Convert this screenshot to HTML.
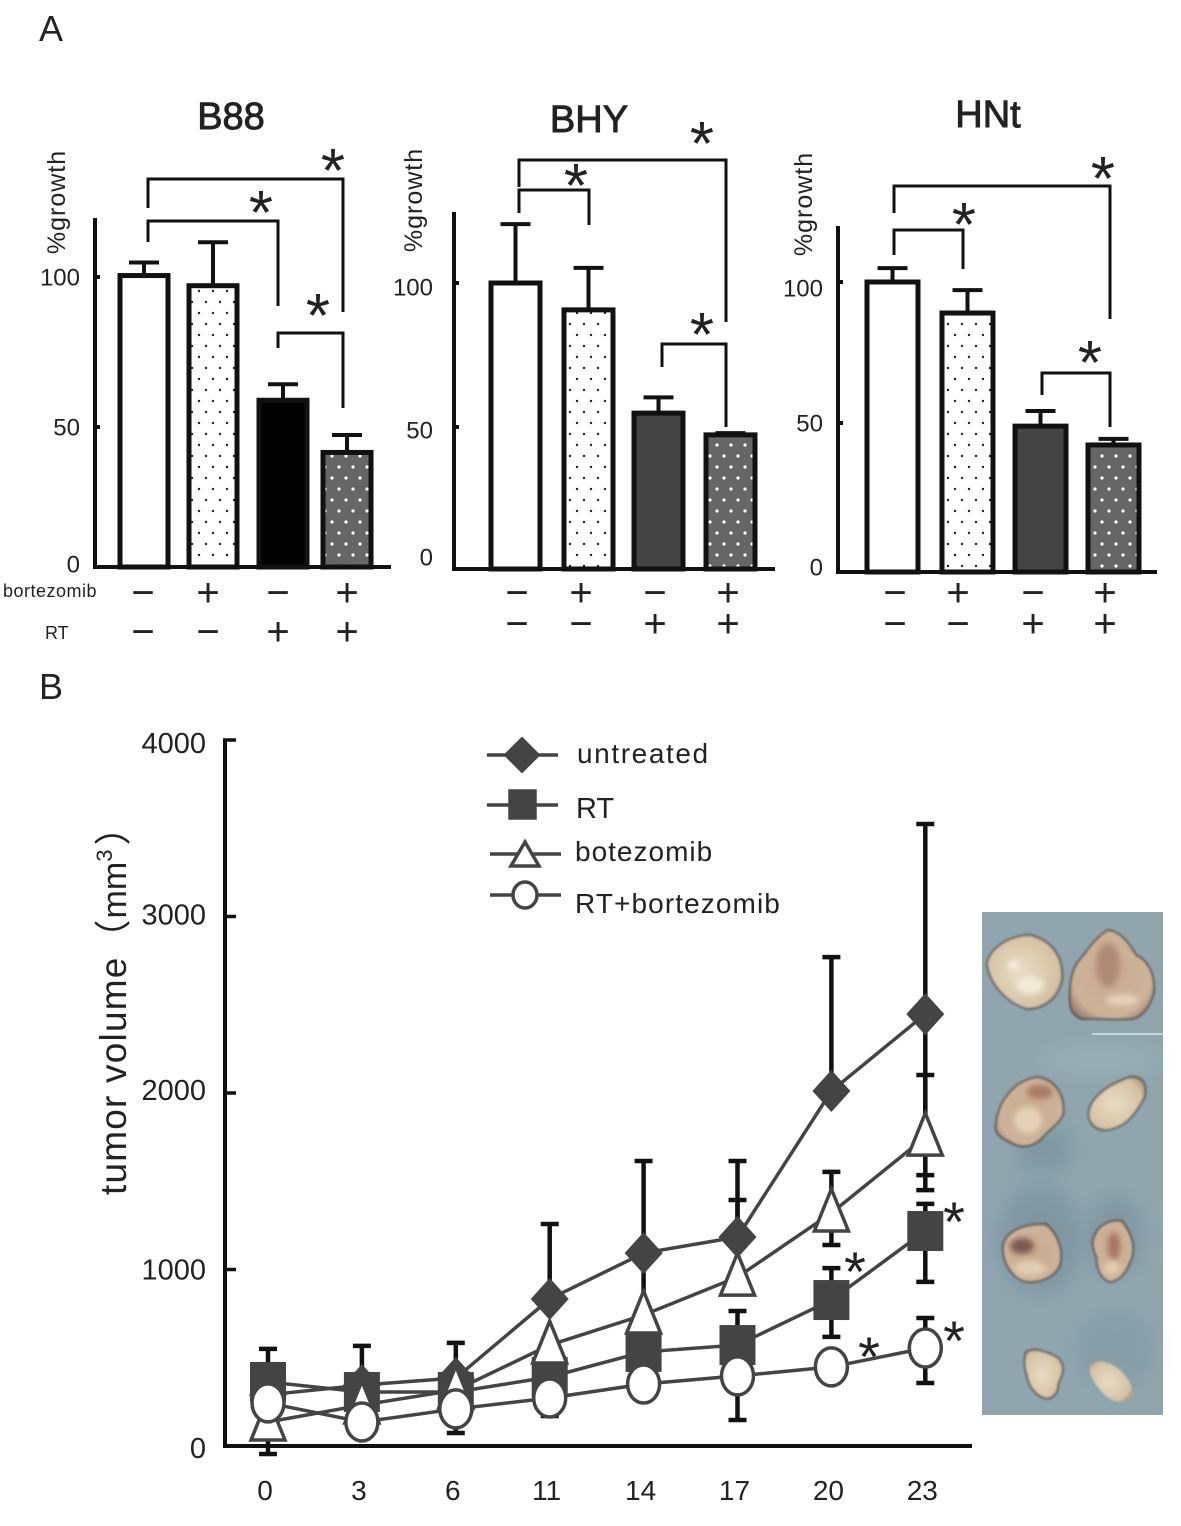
<!DOCTYPE html>
<html lang="en">
<head>
<meta charset="utf-8">
<title>Tumor growth figure</title>
<style>
html,body{margin:0;padding:0;background:#fff;}
svg{display:block;}
text{font-family:"Liberation Sans","Noto Sans CJK JP",sans-serif;fill:#222;}
.sign{font-size:40px;text-anchor:middle;fill:#222;}
.star{font-size:62px;text-anchor:middle;fill:#222;}
.bstar{font-size:56px;text-anchor:middle;fill:#222;}
.br{fill:none;stroke:#111;stroke-width:3;}
</style>
</head>
<body>
<svg id="fig" xmlns="http://www.w3.org/2000/svg" width="1181" height="1526" viewBox="0 0 1181 1526">
<defs>
  <pattern id="dots" width="14" height="22" patternUnits="userSpaceOnUse">
    <rect width="14" height="22" fill="#fff"/>
    <circle cx="3" cy="5" r="1.2" fill="#222"/>
    <circle cx="10" cy="16" r="1.2" fill="#222"/>
  </pattern>
  <pattern id="darkdots" width="14" height="22" patternUnits="userSpaceOnUse">
    <rect width="14" height="22" fill="#666"/>
    <circle cx="3" cy="5" r="1.6" fill="#fff"/>
    <circle cx="10" cy="16" r="1.6" fill="#fff"/>
  </pattern>
  <filter id="soft"><feGaussianBlur stdDeviation="1.1"/></filter>
  <filter id="soft3"><feGaussianBlur stdDeviation="3"/></filter>
  <filter id="soft2"><feGaussianBlur stdDeviation="9"/></filter>
  <radialGradient id="t1" cx="45%" cy="50%" r="62%"><stop offset="0" stop-color="#e8dcc2"/><stop offset="0.8" stop-color="#d6c2a4"/><stop offset="1" stop-color="#b09a80"/></radialGradient>
  <radialGradient id="t2" cx="50%" cy="50%" r="62%"><stop offset="0" stop-color="#c9aa8e"/><stop offset="0.75" stop-color="#cdb398"/><stop offset="1" stop-color="#94786a"/></radialGradient>
</defs>

<g id="panelA"></g>
<g id="panelB"></g>

<text x="39" y="41" font-size="36">A</text>
<text x="39" y="699" font-size="36">B</text>

<!-- Significance brackets -->
<g>
  <path class="br" d="M148 208V179H343V312"/><path class="br" d="M148 242V221H278V306"/><path class="br" d="M278 348V333H343V408"/>
  <text class="star" x="333" y="192">*</text><text class="star" x="261" y="234">*</text><text class="star" x="318" y="337">*</text>
</g>
<g>
  <path class="br" d="M519 187V160H726V322"/><path class="br" d="M519 213V190H589V225"/><path class="br" d="M662 367V344H726V427"/>
  <text class="star" x="702" y="165">*</text><text class="star" x="576" y="207">*</text><text class="star" x="702" y="356">*</text>
</g>
<g>
  <path class="br" d="M894 213V186H1110V319"/><path class="br" d="M894 255V230H963V269"/><path class="br" d="M1042 395V373H1110V427"/>
  <text class="star" x="1103" y="200">*</text><text class="star" x="964" y="246">*</text><text class="star" x="1090" y="384">*</text>
</g>

<!-- Treatment rows -->
<g>
  <text x="3" y="597" font-size="18" letter-spacing="0.5">bortezomib</text>
  <text x="45" y="639" font-size="18">RT</text>
  <text class="sign" x="143" y="606">−</text><text class="sign" x="208" y="606">+</text><text class="sign" x="278" y="606">−</text><text class="sign" x="347" y="606">+</text>
  <text class="sign" x="143" y="645">−</text><text class="sign" x="208" y="645">−</text><text class="sign" x="278" y="645">+</text><text class="sign" x="347" y="645">+</text>
</g>
<g>
  <text class="sign" x="517" y="606">−</text><text class="sign" x="581" y="606">+</text><text class="sign" x="655" y="606">−</text><text class="sign" x="728" y="606">+</text>
  <text class="sign" x="517" y="637">−</text><text class="sign" x="581" y="637">−</text><text class="sign" x="655" y="637">+</text><text class="sign" x="728" y="637">+</text>
</g>
<g>
  <text class="sign" x="895" y="606">−</text><text class="sign" x="958" y="606">+</text><text class="sign" x="1033" y="606">−</text><text class="sign" x="1105" y="606">+</text>
  <text class="sign" x="895" y="637">−</text><text class="sign" x="958" y="637">−</text><text class="sign" x="1033" y="637">+</text><text class="sign" x="1105" y="637">+</text>
</g>

<!-- Legend -->
<g stroke="#444" stroke-width="3.5">
  <g>
    <path d="M487 755H558" fill="none"/><path d="M522 739L538 755L522 771L506 755Z" fill="#444"/>
    <text x="577" y="763" font-size="28" letter-spacing="1.6" stroke="none">untreated</text>
  </g>
  <g>
    <path d="M487 805H558" fill="none"/><rect x="510" y="791" width="25" height="27" fill="#444"/>
    <text x="576" y="818" font-size="29" stroke="none">RT</text>
  </g>
  <g>
    <path d="M490 854H561" fill="none"/><path d="M525 842L539 866H511Z" fill="#fff" stroke-width="3.5"/>
    <text x="575" y="861" font-size="28" letter-spacing="1" stroke="none">botezomib</text>
  </g>
  <g>
    <path d="M490 895H561" fill="none"/><ellipse cx="525" cy="895" rx="12" ry="13" fill="#fff"/>
    <text x="575" y="913" font-size="28" letter-spacing="1.1" stroke="none">RT+bortezomib</text>
  </g>
</g>

<text transform="translate(126,1195) rotate(-90)" font-size="37" letter-spacing="1.2">tumor volume<tspan letter-spacing="0">（</tspan><tspan font-size="34" letter-spacing="0" dx="1">mm</tspan><tspan font-size="22" letter-spacing="0" dy="-14">3</tspan><tspan dy="14" dx="4" letter-spacing="0">）</tspan></text>

<!-- Tumor photograph, drawn as shapes -->
<g>
  <rect x="982" y="912" width="181" height="503" fill="#8fa6ae"/>
  <g filter="url(#soft2)" opacity="0.5">
    <rect x="1020" y="1130" width="50" height="40" fill="#6f8a96"/>
    <ellipse cx="1040" cy="1240" rx="42" ry="55" fill="#6f8a96"/>
    <ellipse cx="1115" cy="1235" rx="28" ry="40" fill="#6f8a96"/>
    <ellipse cx="1115" cy="1350" rx="40" ry="40" fill="#7e98a3"/>
    <ellipse cx="1100" cy="1060" rx="60" ry="12" fill="#a6bac0"/>
  </g>
  <path d="M1092 1034H1163" stroke="#d9e2e4" stroke-width="1.5" fill="none"/>
  <g filter="url(#soft)" stroke="#3a3030" stroke-width="1.5">
    <path d="M987 964C990 948 1008 936 1030 935C1050 940 1064 955 1062 980C1058 998 1045 1008 1028 1009C1008 1004 990 985 987 964Z" fill="url(#t1)"/>
    <path d="M1070 1002C1069 985 1072 970 1078 962C1088 950 1095 938 1108 930C1122 932 1130 945 1136 955C1148 960 1155 975 1154 992C1150 1008 1140 1020 1128 1019C1110 1020 1095 1018 1082 1019C1074 1016 1070 1010 1070 1002Z" fill="url(#t2)"/>
    <path d="M996 1125C998 1100 1015 1080 1038 1077C1055 1080 1066 1095 1063 1115C1058 1125 1048 1130 1040 1140C1030 1148 1018 1148 1010 1142C1000 1138 994 1132 996 1125Z" fill="url(#t2)"/>
    <path d="M1089 1110C1093 1095 1110 1084 1130 1077C1143 1076 1148 1085 1144 1098C1135 1115 1125 1128 1106 1130C1094 1130 1087 1122 1089 1110Z" fill="url(#t1)"/>
    <path d="M1003 1245C1006 1232 1022 1224 1046 1224C1056 1232 1064 1250 1060 1265C1056 1276 1042 1282 1030 1282C1015 1282 1002 1265 1003 1245Z" fill="url(#t2)"/>
    <path d="M1093 1240C1097 1225 1110 1219 1122 1221C1133 1235 1136 1250 1130 1262C1125 1275 1118 1281 1110 1282C1100 1279 1096 1265 1097 1258C1094 1252 1092 1246 1093 1240Z" fill="url(#t2)"/>
    <path d="M1026 1352C1032 1348 1045 1350 1058 1358C1068 1368 1060 1378 1058 1385C1058 1395 1050 1400 1044 1398C1035 1395 1028 1385 1027 1375C1024 1368 1024 1360 1026 1352Z" fill="url(#t1)"/>
    <path d="M1090 1365C1098 1358 1110 1362 1120 1370C1128 1378 1135 1388 1132 1398C1125 1405 1112 1402 1105 1395C1095 1385 1088 1375 1090 1365Z" fill="url(#t1)" stroke="none"/>
  </g>
  <g filter="url(#soft3)">
    <ellipse cx="1030" cy="985" rx="14" ry="9" fill="#f2ead8"/>
    <ellipse cx="1014" cy="965" rx="6" ry="5" fill="#f4efe0"/>
    <ellipse cx="1108" cy="965" rx="12" ry="22" fill="#b08a74"/>
    <ellipse cx="1122" cy="1000" rx="16" ry="6" fill="#e2d2ba"/>
    <ellipse cx="1028" cy="1120" rx="14" ry="14" fill="#e4d2b8"/>
    <ellipse cx="1040" cy="1092" rx="13" ry="7" fill="#a87c62"/>
    <ellipse cx="1022" cy="1246" rx="12" ry="8" fill="#7e5a50"/>
    <ellipse cx="1030" cy="1268" rx="16" ry="7" fill="#e2cfb2"/>
    <ellipse cx="1114" cy="1246" rx="6" ry="14" fill="#a8755e"/>
    <ellipse cx="1112" cy="1268" rx="8" ry="7" fill="#e4cdb0"/>
  </g>
</g>

<script>
// ---- Panel A data ----
const barCategories = ['control', 'bortezomib', 'RT', 'RT+bortezomib'];
const b88Values = [100.5, 97, 57.5, 39.5];
const b88Errors = [105, 112, 63, 45.5];
const bhyValues = [100, 90.6, 54.5, 46.9];
const bhyErrors = [120.6, 105.3, 60, 47.5];
const hntValues = [100, 89.3, 50.3, 43.8];
const hntErrors = [104.8, 97.2, 55.5, 45.9];
const barTickLabels = [0, 50, 100];

// ---- Panel B data ----
const days = ['0', '3', '6', '11', '14', '17', '20', '23'];
const volumeTicks = [0, 1000, 2000, 3000, 4000];
const untreated = [290, 345, 385, 833, 1093, 1184, 2011, 2447];
const untreatedUpper = [550, 567, 584, 1258, 1615, 1615, 2770, 3524];
const untreatedLower = [null, null, null, null, 700, null, null, 1450];
const rt = [363, 306, 306, 391, 533, 572, 827, 1218];
const rtUpper = [null, null, null, null, null, 765, 1008, 1372];
const rtLower = [null, null, null, null, null, null, 618, 930];
const bortezomib = [136, 232, 317, 572, 742, 957, 1320, 1750];
const bortezomibUpper = [null, null, null, null, null, 1394, 1553, 2102];
const bortezomibLower = [-45, null, null, null, null, null, 1139, 1535];
const rtBortezomib = [244, 136, 210, 272, 351, 397, 448, 555];
const rtBortezomibUpper = [null, null, null, null, null, null, null, 725];
const rtBortezomibLower = [null, null, 74, 170, null, 147, null, 357];

const NS = 'http://www.w3.org/2000/svg';
function el(parent, tag, attrs, text) {
  const e = document.createElementNS(NS, tag);
  for (const k in attrs) e.setAttribute(k, attrs[k]);
  if (text !== undefined) e.textContent = text;
  parent.appendChild(e);
  return e;
}

// ---- Panel A drawing ----
function barPanel(cfg) {
  const root = document.getElementById('panelA');
  const g = el(root, 'g', {});
  
  
  const y = v => cfg.y0 - v * cfg.scale;
  const t = el(g, 'text', {x: cfg.titleX, y: cfg.titleY, 'font-size': 38, 'text-anchor': 'middle', stroke: '#222', 'stroke-width': 0.9}, cfg.title);
  
  
  const yt = el(g, 'text', {transform: 'translate(' + cfg.ylabX + ',' + cfg.ylabY + ') rotate(-90)', 'font-size': 25, 'letter-spacing': 1, 'text-anchor': 'middle'}, '%growth');
  
  
  cfg.values.forEach((v, i) => {
    const left = cfg.bars[i], w = cfg.barW;
    const cx = left + w / 2;
    const err = el(g, 'path', {d: 'M' + cx + ' ' + y(v) + 'V' + y(cfg.errors[i]) + 'M' + (cx - 15) + ' ' + y(cfg.errors[i]) + 'H' + (cx + 15), stroke: '#111', 'stroke-width': 4, fill: 'none'});
    
    
    const bar = el(g, 'rect', {x: left, y: y(v), width: w, height: cfg.y0 - y(v), fill: cfg.fills[i], stroke: '#111', 'stroke-width': 5});
    
    
  });
  const axis = el(g, 'path', {d: 'M' + cfg.axisX + ' ' + cfg.axisTop + 'V' + cfg.y0 + 'H' + cfg.axisEnd, stroke: '#111', 'stroke-width': 4, fill: 'none'});
  
  
  barTickLabels.forEach((v, i) => {
    const tick = el(g, 'path', {d: 'M' + cfg.axisX + ' ' + (y(v) + cfg.tickNudge[i]) + 'H' + (cfg.axisX + 5), stroke: '#111', 'stroke-width': 4});
    
    
    const lab = el(g, 'text', {x: cfg.axisX - cfg.labGap, y: y(v) + 8.5 + cfg.labNudge[i], 'font-size': 24, 'text-anchor': 'end', fill: '#333'}, String(v));
    
    
  });
}
barPanel({name: 'b88', title: 'B88', titleX: 231, titleY: 129, ylabX: 65, ylabY: 202, values: b88Values, errors: b88Errors,
  y0: 567, scale: 2.9, axisX: 95, axisTop: 218, axisEnd: 391, labGap: 15, labNudge: [-3, 5, 0], tickNudge: [0, 5, 0], bars: [120, 189, 259, 323], barW: 48,
  fills: ['#fff', 'url(#dots)', '#000', 'url(#darkdots)']});
barPanel({name: 'bhy', title: 'BHY', titleX: 589, titleY: 132, ylabX: 422, ylabY: 200, values: bhyValues, errors: bhyErrors,
  y0: 569, scale: 2.86, axisX: 454, axisTop: 212, axisEnd: 775, labGap: 21, labNudge: [-12, 4, 4], tickNudge: [0, 1, 0], bars: [491, 564, 634, 706], barW: 49,
  fills: ['#fff', 'url(#dots)', '#444', 'url(#darkdots)']});
barPanel({name: 'hnt', title: 'HNt', titleX: 988, titleY: 127, ylabX: 812, ylabY: 204, values: hntValues, errors: hntErrors,
  y0: 572, scale: 2.9, axisX: 838, axisTop: 226, axisEnd: 1157, labGap: 15, labNudge: [-5, -4, 6], tickNudge: [0, -4, 0], bars: [867, 942, 1015, 1088], barW: 51,
  fills: ['#fff', 'url(#dots)', '#444', 'url(#darkdots)']});

// ---- Panel B drawing ----
const bRoot = document.getElementById('panelB');
const xStart = 268, xStep = 93.9;
const X = i => xStart + i * xStep;
const Y = v => 1446 - v * 0.1765;

function errorBars(name, vals, limits) {
  limits.forEach((lim, i) => {
    if (lim === null) return;
    const d = 'M' + X(i) + ' ' + Y(vals[i]) + 'V' + Y(lim) + 'M' + (X(i) - 9) + ' ' + Y(lim) + 'H' + (X(i) + 9);
    const p = el(bRoot, 'path', {d: d, stroke: '#111', 'stroke-width': 4.5, fill: 'none'});
    
    
  });
}
errorBars('untreated', untreated, untreatedUpper);
errorBars('untreated', untreated, untreatedLower);
errorBars('rt', rt, rtUpper);
errorBars('rt', rt, rtLower);
errorBars('bortezomib', bortezomib, bortezomibUpper);
errorBars('bortezomib', bortezomib, bortezomibLower);
errorBars('rt-bortezomib', rtBortezomib, rtBortezomibUpper);
errorBars('rt-bortezomib', rtBortezomib, rtBortezomibLower);

function seriesLine(name, vals) {
  const p = el(bRoot, 'polyline', {points: vals.map((v, i) => X(i) + ',' + Y(v)).join(' '), fill: 'none', stroke: '#444', 'stroke-width': 3.5});
  
  
}
seriesLine('untreated', untreated);
seriesLine('rt', rt);
seriesLine('bortezomib', bortezomib);
seriesLine('rt-bortezomib', rtBortezomib);

function markers(name, vals, draw) {
  vals.forEach((v, i) => {
    const m = draw(X(i), Y(v));
    
    
  });
}
markers('untreated', untreated, (x, y) => el(bRoot, 'path', {d: 'M' + x + ' ' + (y - 21) + 'L' + (x + 19) + ' ' + y + 'L' + x + ' ' + (y + 21) + 'L' + (x - 19) + ' ' + y + 'Z', fill: '#444'}));
markers('rt', rt, (x, y) => el(bRoot, 'rect', {x: x - 18, y: y - 20, width: 36, height: 40, fill: '#444'}));
markers('bortezomib', bortezomib, (x, y) => el(bRoot, 'path', {d: 'M' + x + ' ' + (y - 24) + 'L' + (x + 17) + ' ' + (y + 18) + 'L' + (x - 17) + ' ' + (y + 18) + 'Z', fill: '#fff', stroke: '#444', 'stroke-width': 3.5}));
markers('rt-bortezomib', rtBortezomib, (x, y) => el(bRoot, 'ellipse', {cx: x, cy: y, rx: 16, ry: 19, fill: '#fff', stroke: '#444', 'stroke-width': 3.5}));

const bAxis = el(bRoot, 'path', {d: 'M225 740V1446H972', stroke: '#111', 'stroke-width': 4, fill: 'none'});


const volumeLabelNudge = [2, 0, -3, -2, 3];
volumeTicks.forEach((v, i) => {
  const tick = el(bRoot, 'path', {d: 'M223 ' + Y(v) + 'H236', stroke: '#111', 'stroke-width': 3.5});
  
  
  const lab = el(bRoot, 'text', {x: 206, y: Y(v) + 10 + volumeLabelNudge[i], 'font-size': 29, 'text-anchor': 'end', fill: '#333'}, String(v));
  
  
});
days.forEach((d, i) => {
  const lab = el(bRoot, 'text', {x: X(i) - 3, y: 1500, 'font-size': 28, 'text-anchor': 'middle', fill: '#333'}, d);
  
  
});

[[954, 1241], [855, 1291], [869, 1376], [954, 1360]].forEach(pos => {
  const s = el(bRoot, 'text', {class: 'bstar', x: pos[0], y: pos[1]}, '*');
  
  
});
</script>
</svg>
</body>
</html>
